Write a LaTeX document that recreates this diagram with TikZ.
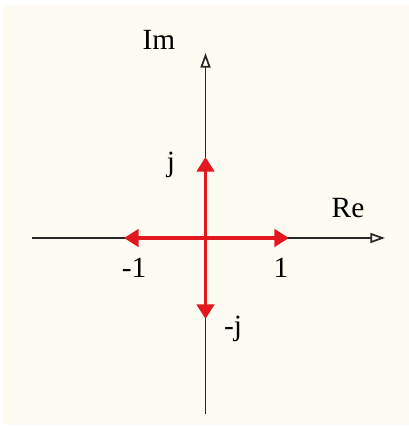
\documentclass[tikz,border=0pt]{standalone}
\usepackage{fontspec}
\setmainfont{Liberation Serif}
\usetikzlibrary{arrows.meta}

\definecolor{paper}{RGB}{254,251,242}
\definecolor{axisgray}{RGB}{40,40,40}
\definecolor{vecred}{RGB}{226,24,30}

\begin{document}
\begin{tikzpicture}[x=0.75pt, y=-0.75pt,
  axis/.style={draw=axisgray, line width=1.3pt, -{Triangle[open, length=11pt, width=7.5pt]}},
  vec/.style={draw=vecred, line width=2.8pt, -{Triangle[length=11pt, width=13pt]}},
  lbl/.style={font=\fontsize{22}{26}\selectfont, anchor=base, inner sep=0pt}
]
  % page and paper
  \useasboundingbox (0,0) rectangle (409,428);
  \fill[white] (0,0) rectangle (409,428);
  \fill[paper] (3,5) rectangle (409,425);

  % axes
  \coordinate (O) at (205.5,238);
  \coordinate (xl) at (32,238);
  \coordinate (xr) at (385,238);
  \coordinate (yb) at (205.5,414);
  \coordinate (yt) at (205.5,53);
  \draw[axis] (xl) -- (xr);
  \draw[axis] (yb) -- (yt);

  % unit vectors
  \coordinate (pj) at (205.5,157);
  \coordinate (mj) at (205.5,319);
  \coordinate (p1) at (289,238);
  \coordinate (m1) at (124,238);
  \draw[vec] (O) -- (pj);
  \draw[vec] (O) -- (mj);
  \draw[vec] (O) -- (p1);
  \draw[vec] (O) -- (m1);

  % labels
  \node[lbl] (im)  at (159,50)  {Im};
  \node[lbl] (re)  at (348,217) {Re};
  \node[lbl] (lj)  at (171,171) {j};
  \node[lbl] (lmj) at (233,335) {-j};
  \node[lbl] (l1)  at (281,277) {1};
  \node[lbl] (lm1) at (134,277) {-1};
\end{tikzpicture}
\end{document}
